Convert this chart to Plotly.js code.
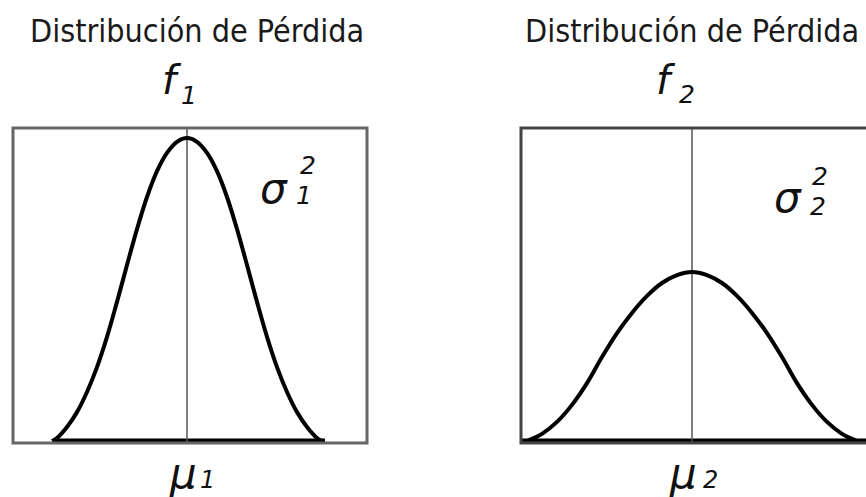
<!DOCTYPE html>
<html>
<head>
<meta charset="utf-8">
<script src="https://cdn.plot.ly/plotly-3.0.1.min.js"></script>
<style>html,body{margin:0;padding:0;background:#fff}#chart{width:866px;height:497px}</style>
</head>
<body>
<div id="chart"></div>
<script>
// Loss distribution 1 (narrow): offset from mean, relative density
const x1 = [-13.5, -13.0, -12.0, -11.0, -10.0, -9.0, -8.0, -7.0, -6.0, -5.0, -4.0, -3.0, -2.0, -1.0, 0,
            1.0, 2.0, 3.0, 4.0, 5.0, 6.0, 7.0, 8.0, 9.0, 10.0, 11.0, 12.0, 13.0, 13.5];
const y1 = [0.006, 0.016, 0.051, 0.098, 0.162, 0.241, 0.337, 0.448, 0.565, 0.679, 0.781, 0.863, 0.921, 0.956, 0.968,
            0.956, 0.921, 0.863, 0.781, 0.679, 0.565, 0.448, 0.337, 0.241, 0.162, 0.098, 0.051, 0.016, 0.006];
// Loss distribution 2 (wide)
const x2 = [-16.8, -16.0, -15.0, -13.5, -12.0, -10.5, -9.0, -7.5, -6.0, -4.5, -3.0, -1.5, 0,
            1.5, 3.0, 4.5, 6.0, 7.5, 9.0, 10.5, 12.0, 13.5, 15.0, 16.0, 16.8];
const y2 = [0.003, 0.013, 0.029, 0.067, 0.121, 0.190, 0.273, 0.349, 0.413, 0.467, 0.508, 0.533, 0.543,
            0.533, 0.508, 0.467, 0.413, 0.349, 0.273, 0.190, 0.121, 0.067, 0.029, 0.013, 0.003];
// baseline extents
const base1 = [-13.2, 13.8];
const base2 = [-17.5, 17.6];
const titleText = "Distribución de Pérdida";

const W = 866, H = 497;
const px = v => v / W, py = v => 1 - v / H;

const traces = [
  {x: base1, y: [0.006, 0.006], xaxis: 'x', yaxis: 'y', mode: 'lines', line: {color: '#000', width: 5}, hoverinfo: 'skip'},
  {x: [0, 0], y: [0, 1], xaxis: 'x', yaxis: 'y', mode: 'lines', line: {color: '#555', width: 1.5}, hoverinfo: 'skip'},
  {x: x1, y: y1, xaxis: 'x', yaxis: 'y', mode: 'lines', line: {color: '#000', width: 4, shape: 'spline', smoothing: 1}},
  {x: base2, y: [0.006, 0.006], xaxis: 'x2', yaxis: 'y2', mode: 'lines', line: {color: '#000', width: 5}, hoverinfo: 'skip'},
  {x: [0, 0], y: [0, 1], xaxis: 'x2', yaxis: 'y2', mode: 'lines', line: {color: '#555', width: 1.5}, hoverinfo: 'skip'},
  {x: x2, y: y2, xaxis: 'x2', yaxis: 'y2', mode: 'lines', line: {color: '#000', width: 4, shape: 'spline', smoothing: 1}}
];

const ax = {showgrid: false, zeroline: false, showticklabels: false, ticks: '', showline: false, fixedrange: true};
const txtFont = {family: 'DejaVu Sans Condensed, DejaVu Sans, sans-serif', size: 32, color: '#1a1a1a'};
const symFont = s => ({family: 'DejaVu Sans, sans-serif', size: s, color: '#111'});

function ann(text, x, y, font) {
  return {text: text, xref: 'paper', yref: 'paper', x: px(x), y: py(y), xanchor: 'center', yanchor: 'middle', showarrow: false, font: font};
}

const annotations = [
  ann(titleText, 197, 31, txtFont),
  ann(titleText, 692, 31, txtFont),
  ann('<i>f</i>', 172, 80, symFont(40)),
  ann('<i>1</i>', 189, 96, symFont(25)),
  ann('<i>f</i>', 666, 80, symFont(40)),
  ann('<i>2</i>', 687, 94, symFont(25)),
  ann('<i>σ</i>', 274, 188, symFont(42)),
  ann('<i>2</i>', 308, 166, symFont(25)),
  ann('<i>1</i>', 304, 196, symFont(25)),
  ann('<i>σ</i>', 788, 197, symFont(42)),
  ann('<i>2</i>', 820, 176, symFont(25)),
  ann('<i>2</i>', 818, 206, symFont(25)),
  ann('<i>μ</i>', 183, 473, symFont(42)),
  ann('<i>1</i>', 207, 480, symFont(24)),
  ann('<i>μ</i>', 683, 473, symFont(42)),
  ann('<i>2</i>', 710, 480, symFont(24))
];

const shapes = [
  {type: 'rect', xref: 'paper', yref: 'paper', x0: px(13), x1: px(367), y0: py(443), y1: py(128), line: {color: '#666', width: 3}},
  {type: 'path', xref: 'paper', yref: 'paper',
   path: `M ${px(880)} ${py(128)} L ${px(521)} ${py(128)} L ${px(521)} ${py(443)} L ${px(880)} ${py(443)}`,
   line: {color: '#444', width: 3}}
];

const layout = {
  width: W, height: H,
  margin: {l: 0, r: 0, t: 0, b: 0},
  paper_bgcolor: '#fff', plot_bgcolor: 'rgba(0,0,0,0)',
  showlegend: false,
  xaxis: Object.assign({}, ax, {domain: [px(13), px(367)], range: [-17.4, 18.0]}),
  yaxis: Object.assign({}, ax, {domain: [py(443), py(128)], range: [0, 1]}),
  xaxis2: Object.assign({}, ax, {domain: [px(521), 1], range: [-17.1, 17.4], anchor: 'y2'}),
  yaxis2: Object.assign({}, ax, {domain: [py(443), py(128)], range: [0, 1], anchor: 'x2'}),
  annotations: annotations,
  shapes: shapes
};

Plotly.newPlot('chart', traces, layout, {staticPlot: true, displayModeBar: false});
</script>
</body>
</html>
